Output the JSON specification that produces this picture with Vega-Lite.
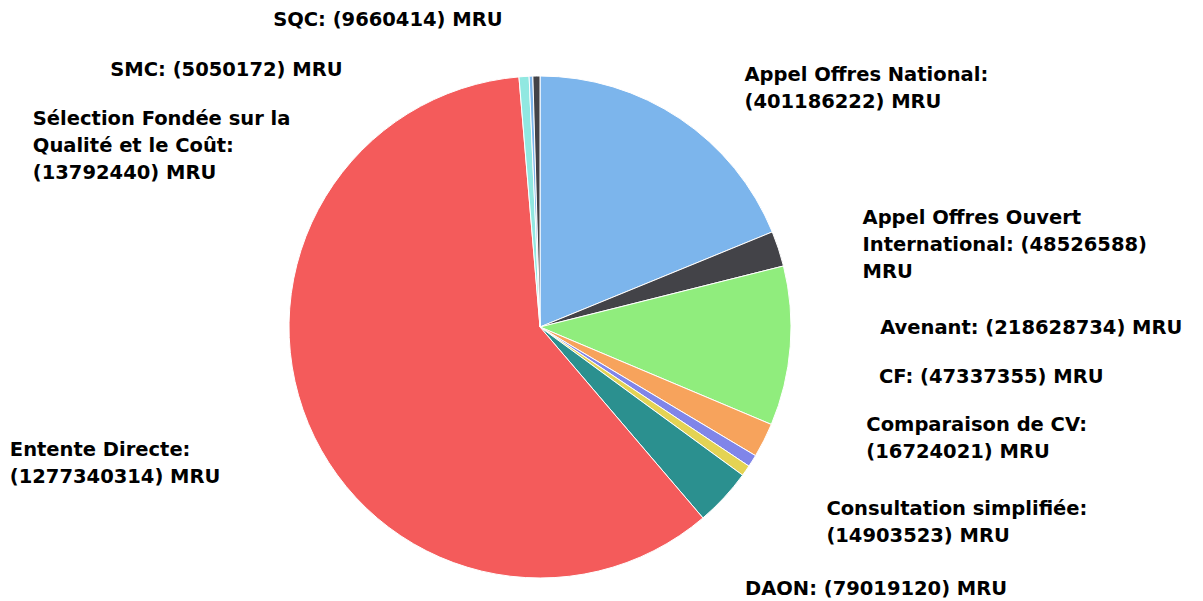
{
  "$schema": "https://vega.github.io/schema/vega-lite/v6.json",
  "width": 1080,
  "height": 548,
  "autosize": "none",
  "padding": {"left": 0, "top": 53, "right": 123, "bottom": 0},
  "background": "#ffffff",
  "config": {"view": {"stroke": null}},
  "data": {
    "values": [
      {"name": "Appel Offres National", "value": 401186222, "label": "Appel Offres National:\n(401186222) MRU"},
      {"name": "Appel Offres Ouvert International", "value": 48526588, "label": "Appel Offres Ouvert\nInternational: (48526588)\nMRU"},
      {"name": "Avenant", "value": 218628734, "label": "Avenant: (218628734) MRU"},
      {"name": "CF", "value": 47337355, "label": "CF: (47337355) MRU"},
      {"name": "Comparaison de CV", "value": 16724021, "label": "Comparaison de CV:\n(16724021) MRU"},
      {"name": "Consultation simplifiée", "value": 14903523, "label": "Consultation simplifiée:\n(14903523) MRU"},
      {"name": "DAON", "value": 79019120, "label": "DAON: (79019120) MRU"},
      {"name": "Entente Directe", "value": 1277340314, "label": "Entente Directe:\n(1277340314) MRU"},
      {"name": "Sélection Fondée sur la Qualité et le Coût", "value": 13792440, "label": "Sélection Fondée sur la\nQualité et le Coût:\n(13792440) MRU"},
      {"name": "SMC", "value": 5050172, "label": "SMC: (5050172) MRU"},
      {"name": "SQC", "value": 9660414, "label": "SQC: (9660414) MRU"}
    ]
  },
  "transform": [{"window": [{"op": "row_number", "as": "idx"}]}],
  "encoding": {
    "theta": {"field": "value", "type": "quantitative", "stack": true},
    "order": {"field": "idx", "type": "quantitative"}
  },
  "layer": [
    {
      "mark": {"type": "arc", "outerRadius": 251, "stroke": "#ffffff", "strokeWidth": 1},
      "encoding": {
        "color": {
          "field": "name",
          "type": "nominal",
          "scale": {
            "domain": ["Appel Offres National", "Appel Offres Ouvert International", "Avenant", "CF", "Comparaison de CV", "Consultation simplifiée", "DAON", "Entente Directe", "Sélection Fondée sur la Qualité et le Coût", "SMC", "SQC"],
            "range": ["#7cb5ec", "#434348", "#90ed7d", "#f7a35c", "#8085e9", "#e4d354", "#2b908f", "#f45b5b", "#91e8e1", "#7cb5ec", "#434348"]
          },
          "legend": null
        }
      }
    },
    {
      "mark": {"type": "text", "radius": 270, "align": "left", "baseline": "middle", "dx": 54, "dy": -28, "font": "DejaVu Sans", "fontWeight": "bold", "fontSize": 19.5, "lineHeight": 27, "lineBreak": "\n", "color": "#000000"},
      "encoding": {"text": {"condition": {"test": "datum.name === 'Appel Offres National'", "field": "label"}, "value": ""}}
    },
    {
      "mark": {"type": "text", "radius": 270, "align": "left", "baseline": "middle", "dx": 66, "dy": -25, "font": "DejaVu Sans", "fontWeight": "bold", "fontSize": 19.5, "lineHeight": 27, "lineBreak": "\n", "color": "#000000"},
      "encoding": {"text": {"condition": {"test": "datum.name === 'Appel Offres Ouvert International'", "field": "label"}, "value": ""}}
    },
    {
      "mark": {"type": "text", "radius": 270, "align": "left", "baseline": "middle", "dx": 71, "dy": -20, "font": "DejaVu Sans", "fontWeight": "bold", "fontSize": 19.5, "lineHeight": 27, "lineBreak": "\n", "color": "#000000"},
      "encoding": {"text": {"condition": {"test": "datum.name === 'Avenant'", "field": "label"}, "value": ""}}
    },
    {
      "mark": {"type": "text", "radius": 270, "align": "left", "baseline": "middle", "dx": 98, "dy": -72, "font": "DejaVu Sans", "fontWeight": "bold", "fontSize": 19.5, "lineHeight": 27, "lineBreak": "\n", "color": "#000000"},
      "encoding": {"text": {"condition": {"test": "datum.name === 'CF'", "field": "label"}, "value": ""}}
    },
    {
      "mark": {"type": "text", "radius": 270, "align": "left", "baseline": "middle", "dx": 98, "dy": -46, "font": "DejaVu Sans", "fontWeight": "bold", "fontSize": 19.5, "lineHeight": 27, "lineBreak": "\n", "color": "#000000"},
      "encoding": {"text": {"condition": {"test": "datum.name === 'Comparaison de CV'", "field": "label"}, "value": ""}}
    },
    {
      "mark": {"type": "text", "radius": 270, "align": "left", "baseline": "middle", "dx": 65, "dy": 27, "font": "DejaVu Sans", "fontWeight": "bold", "fontSize": 19.5, "lineHeight": 27, "lineBreak": "\n", "color": "#000000"},
      "encoding": {"text": {"condition": {"test": "datum.name === 'Consultation simplifiée'", "field": "label"}, "value": ""}}
    },
    {
      "mark": {"type": "text", "radius": 270, "align": "left", "baseline": "middle", "dx": 7, "dy": 78, "font": "DejaVu Sans", "fontWeight": "bold", "fontSize": 19.5, "lineHeight": 27, "lineBreak": "\n", "color": "#000000"},
      "encoding": {"text": {"condition": {"test": "datum.name === 'DAON'", "field": "label"}, "value": ""}}
    },
    {
      "mark": {"type": "text", "radius": 270, "align": "left", "baseline": "middle", "dx": -281, "dy": 19, "font": "DejaVu Sans", "fontWeight": "bold", "fontSize": 19.5, "lineHeight": 27, "lineBreak": "\n", "color": "#000000"},
      "encoding": {"text": {"condition": {"test": "datum.name === 'Entente Directe'", "field": "label"}, "value": ""}}
    },
    {
      "mark": {"type": "text", "radius": 270, "align": "left", "baseline": "middle", "dx": -490, "dy": 61, "font": "DejaVu Sans", "fontWeight": "bold", "fontSize": 19.5, "lineHeight": 27, "lineBreak": "\n", "color": "#000000"},
      "encoding": {"text": {"condition": {"test": "datum.name === 'Sélection Fondée sur la Qualité et le Coût'", "field": "label"}, "value": ""}}
    },
    {
      "mark": {"type": "text", "radius": 270, "align": "left", "baseline": "middle", "dx": -420, "dy": 13, "font": "DejaVu Sans", "fontWeight": "bold", "fontSize": 19.5, "lineHeight": 27, "lineBreak": "\n", "color": "#000000"},
      "encoding": {"text": {"condition": {"test": "datum.name === 'SMC'", "field": "label"}, "value": ""}}
    },
    {
      "mark": {"type": "text", "radius": 270, "align": "left", "baseline": "middle", "dx": -263, "dy": -37, "font": "DejaVu Sans", "fontWeight": "bold", "fontSize": 19.5, "lineHeight": 27, "lineBreak": "\n", "color": "#000000"},
      "encoding": {"text": {"condition": {"test": "datum.name === 'SQC'", "field": "label"}, "value": ""}}
    }
  ]
}
